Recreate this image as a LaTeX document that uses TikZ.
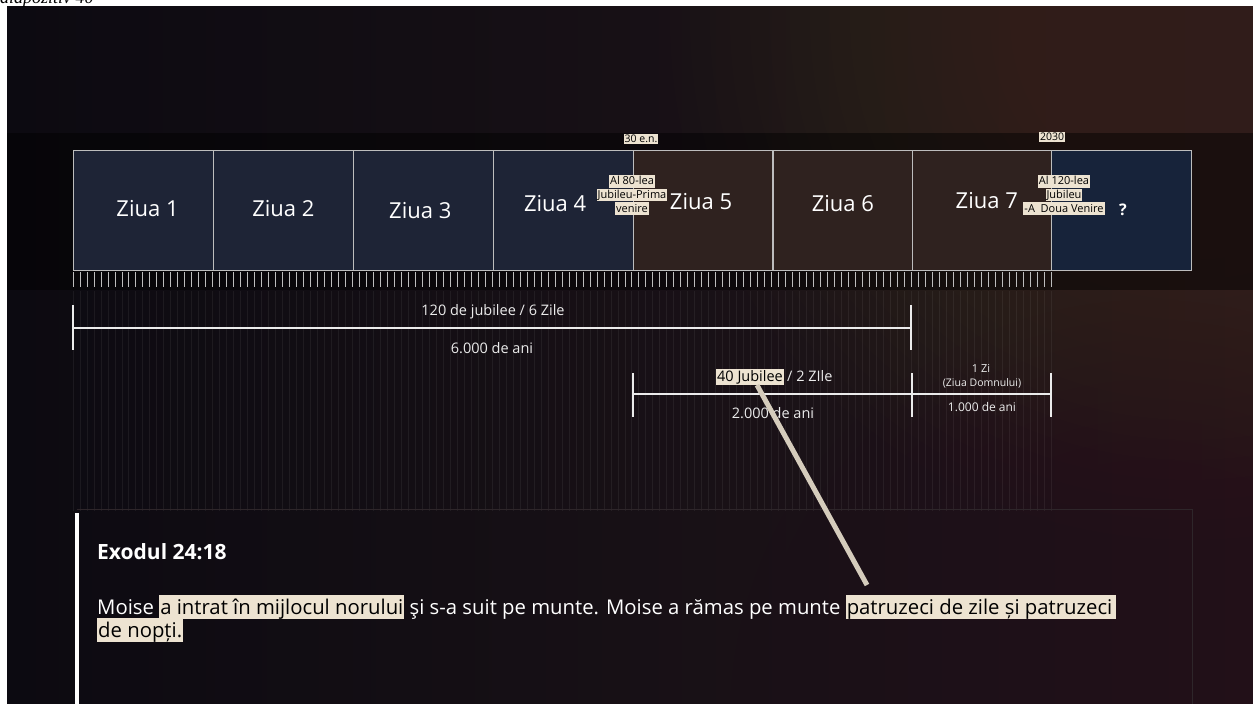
\documentclass[tikz,border=0pt]{standalone}
\usepackage{fontspec}
\setmainfont{Open Sans}
\newfontfamily\titlefont{Liberation Serif}
\usetikzlibrary{positioning,calc}

\definecolor{bgleft}{HTML}{0C0A11}
\definecolor{bgright}{HTML}{22161A}
\definecolor{warmglow}{HTML}{5A4640}
\definecolor{maroon}{HTML}{3A1018}
\definecolor{navybox}{HTML}{1E2436}
\definecolor{bluebox}{HTML}{17233A}
\definecolor{brownbox}{HTML}{2F221F}
\definecolor{hlbeige}{HTML}{EDE3D1}
\definecolor{rulegray}{HTML}{BDBDBD}
\definecolor{framegray}{HTML}{2E262A}

% highlighted words
\newcommand{\hilite}[1]{{\setlength{\fboxsep}{0pt}\colorbox{hlbeige}{\kern1pt\color{black}\rule[-.24em]{0pt}{1.16em}#1\kern1pt}}}

\tikzset{
  daybox/.style={draw=rulegray, line width=1.2pt, minimum width=139.875pt,
    minimum height=120pt, inner sep=0pt, anchor=north west},
  daylabel/.style={text=white, inner sep=0pt, font=\fontsize{22}{22}\selectfont},
  datetag/.style={fill=hlbeige, text=black, inner sep=1pt,
    font=\fontsize{10.5}{11}\selectfont},
  jubtag/.style={align=center, inner sep=0pt, font=\fontsize{11}{12.5}\selectfont},
  rulertick/.style={draw=rulegray, line width=0.8pt},
  stripe/.style={draw=white, opacity=0.06, line width=0.8pt},
  measure/.style={draw=white!92!black, line width=2.2pt},
  mlabel/.style={text=white!92!black, inner sep=0pt, font=\fontsize{14.5}{15}\selectfont},
  pointer/.style={draw=hlbeige!90!black, line width=5pt},
  verse/.style={text=white, inner sep=0pt, anchor=base west,
    font=\fontsize{20.3}{24}\selectfont},
}

\begin{document}
\begin{tikzpicture}[x=1pt,y=-1pt]
\useasboundingbox (0,0) rectangle (1253,704);
\fill[white] (0,0) rectangle (1253,704);

% slide background
\begin{scope}
  \clip (7,6) rectangle (1253,704);
  \shade[left color=bgleft, right color=bgright] (7,6) rectangle (1253,704);
  \foreach \r in {20,40,...,520}
    \fill[warmglow, opacity=0.022] (1190,20) circle (\r);
  \foreach \r in {20,40,...,420}
    \fill[maroon, opacity=0.025] (1150,720) circle (\r);
  \fill[black, opacity=0.45] (7,133) rectangle (1253,290);
\end{scope}

% slide caption, cut off at the top
\begin{scope}
  \clip (0,0) rectangle (1253,6);
  \node[anchor=base west, inner sep=0pt, font=\titlefont\itshape\fontsize{18}{18}\selectfont]
    (caption) at (0,4) {diapozitiv 40};
\end{scope}

% the days
\foreach \i/\c/\dx/\dy in {1/navybox/4/-2, 2/navybox/0/-2, 3/navybox/-3/0,
    4/navybox/-8/-7, 5/brownbox/-2/-9, 6/brownbox/0/-7, 7/brownbox/4/-10} {
  \node[daybox, fill=\c] (day\i) at ({73+(\i-1)*139.875},150) {};
  \node[daylabel] (lab\i) at ($(day\i.center)+(\dx,\dy)$) {Ziua \i};
}
\node[daybox, fill=bluebox] (day8) at (1051.125,150) {};
\node[text=white, font=\bfseries\fontsize{16}{16}\selectfont] (qmark) at (1123,210) {?};

% ruler under the days
\foreach \k in {0,...,140} {
  \draw[rulertick] ($(day1.south west)+(\k*6.986,1)$) -- ++(0,15);
  \draw[stripe] ($(day1.south west)+(\k*6.986,20)$) -- ++(0,220);
}

% dates and jubilees
\node[datetag] (d30) at (641,139) {30 e.n.};
\node[datetag] (d2030) at (1052,137) {2030};
\node[jubtag] (jub80) at (632,195) {\hilite{Al 80-lea}\\\hilite{Jubileu-Prima}\\\hilite{venire}};
\node[jubtag] (jub120) at (1064,195) {\hilite{Al 120-lea}\\\hilite{Jubileu}\\\hilite{-A\ \ Doua Venire}};

% spans
\coordinate (a1) at (73,328);
\coordinate (b1) at (911,328);
\draw[measure] (a1) -- (b1);
\foreach \p in {a1,b1}
  \draw[measure] ($(\p)+(0,-23)$) -- ($(\p)+(0,22)$);
\node[mlabel] (t1) at (493,312) {120 de jubilee / 6 Zile};
\node[mlabel] (y1) at (492,348) {6.000 de ani};

\coordinate (a2) at (633,394);
\coordinate (b2) at (912,394);
\coordinate (c2) at (1051,394);
\draw[measure] (a2) -- (c2);
\foreach \p in {a2,b2,c2}
  \draw[measure] ($(\p)+(0,-21)$) -- ($(\p)+(0,23)$);
\node[mlabel, text=black, fill=hlbeige, inner sep=1pt] (jub40) at (750,377) {40 Jubilee};
\node[mlabel, anchor=base west, xshift=3pt] (z2) at (jub40.base east) {/ 2 ZIle};
\node[mlabel] (y2) at (773,413) {2.000 de ani};
\node[mlabel, font=\fontsize{11}{11}\selectfont] (z1) at (981,368) {1 Zi};
\node[mlabel, font=\fontsize{10.5}{11}\selectfont] (lord) at (982,383) {(Ziua Domnului)};
\node[mlabel, font=\fontsize{12}{12}\selectfont] (y3) at (982,407) {1.000 de ani};

% verse frame
\coordinate (fnw) at (77,509);
\coordinate (fne) at (1192,509);
\coordinate (fse) at (1192,704);
\draw[framegray, line width=1pt] (fnw) -- (fne) -- (fse);
\fill[white] (75,513) rectangle (78.5,704);

\node[verse, font=\bfseries\fontsize{21}{21}\selectfont] (ref) at (97,559) {Exodul 24:18};
\node[verse] (line1) at (97,614) {Moise \hilite{a intrat în mijlocul norului} şi s-a suit pe munte. Moise a rămas pe munte \hilite{patruzeci de zile și patruzeci\kern3pt}};
\node[verse] (line2) at (97,637) {\hilite{de nopți.}};

% pointer from the 40 jubilees to the verse
\coordinate (ptrtip) at (867,585);
\draw[pointer] ([xshift=7pt]jub40.south) -- (ptrtip);
\end{tikzpicture}
\end{document}
